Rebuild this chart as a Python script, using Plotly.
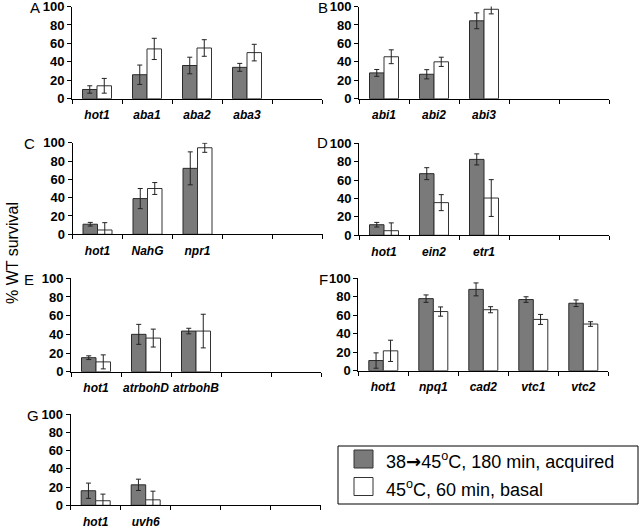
import plotly.graph_objects as go

# ---------------- data ----------------
cats_A = ["hot1", "aba1", "aba2", "aba3"]
acq_A = [10, 26, 36, 34]
acq_err_A = [4, 10.5, 9, 4.3]
bas_A = [14, 54, 55, 50]
bas_err_A = [8, 11.5, 9, 9]

cats_B = ["abi1", "abi2", "abi3"]
acq_B = [28, 26.5, 84.5]
acq_err_B = [3.7, 5, 8.6]
bas_B = [45.5, 40, 97]
bas_err_B = [7.5, 5, 5]

cats_C = ["hot1", "NahG", "npr1"]
acq_C = [11, 39, 72]
acq_err_C = [2, 11, 18]
bas_C = [4.7, 50, 94.5]
bas_err_C = [8, 6.5, 5]

cats_D = ["hot1", "ein2", "etr1"]
acq_D = [11.5, 67, 82.5]
acq_err_D = [2.5, 6.5, 6]
bas_D = [5, 35.5, 40.5]
bas_err_D = [8.5, 8.7, 20]

cats_E = ["hot1", "atrbohD", "atrbohB"]
acq_E = [15, 40, 43.5]
acq_err_E = [2, 10.7, 3]
bas_E = [10.5, 36, 43.5]
bas_err_E = [7.5, 9.6, 18]

cats_F = ["hot1", "npq1", "cad2", "vtc1", "vtc2"]
acq_F = [11, 78, 88, 77, 73]
acq_err_F = [8.3, 4, 7, 3, 3.6]
bas_F = [21.5, 64, 66, 55.5, 50.5]
bas_err_F = [11.5, 5, 3.3, 5.4, 2.5]

cats_G = ["hot1", "uvh6"]
acq_G = [16, 22.5]
acq_err_G = [8.4, 6.2]
bas_G = [5, 6]
bas_err_G = [7.3, 9.5]

panel_letters = ["A", "B", "C", "D", "E", "F", "G"]
legend_labels = [
    "38<span style=\"font-family:DejaVu Sans\"><b>\u2192</b></span>45<sup>o</sup>C, 180 min, acquired",
    "45<sup>o</sup>C, 60 min, basal",
]
y_title = "% WT survival"
n_slots = 5

panels = [
    (cats_A, acq_A, acq_err_A, bas_A, bas_err_A),
    (cats_B, acq_B, acq_err_B, bas_B, bas_err_B),
    (cats_C, acq_C, acq_err_C, bas_C, bas_err_C),
    (cats_D, acq_D, acq_err_D, bas_D, bas_err_D),
    (cats_E, acq_E, acq_err_E, bas_E, bas_err_E),
    (cats_F, acq_F, acq_err_F, bas_F, bas_err_F),
    (cats_G, acq_G, acq_err_G, bas_G, bas_err_G),
]

# ---------------- layout geometry (pixels) ----------------
W, H = 640, 528
# (x_left, x_right, y_top(100), y_bottom(0))
boxes = [
    (72, 322, 6.5, 98.7),
    (359, 609, 6.5, 98.7),
    (72.5, 322.5, 142.7, 234.3),
    (359, 609, 143.3, 235.3),
    (71, 321, 278.3, 371.7),
    (358.3, 608.3, 278.3, 370.7),
    (70.7, 320.7, 414.3, 505.3),
]
letter_pos = [(35, 8), (323, 8), (29.5, 143.5), (322, 143), (29, 279), (323, 279), (33, 415)]

FONT = "Arial, Liberation Sans, sans-serif"
DARK = "#7a7a7a"
EDGE = "#2a2a2a"

fig = go.Figure()
layout = dict(
    width=W, height=H,
    margin=dict(l=0, r=0, t=0, b=0, autoexpand=False),
    paper_bgcolor="white", plot_bgcolor="white",
    barmode="group", bargap=0.42, bargroupgap=0,
    showlegend=False,
    font=dict(family=FONT, color="black"),
)

annotations = []
shapes = []

for i, (cats, acq, acq_e, bas, bas_e) in enumerate(panels):
    k = "" if i == 0 else str(i + 1)
    xa, ya = "x" + k, "y" + k
    slots = list(cats) + [" " * (j + 1) for j in range(n_slots - len(cats))]
    fig.add_trace(go.Bar(
        x=cats, y=acq, xaxis=xa, yaxis=ya, name="acquired",
        marker=dict(color=DARK, line=dict(color=EDGE, width=1)),
        error_y=dict(type="data", array=acq_e, color="#222", thickness=1, width=2.5),
    ))
    fig.add_trace(go.Bar(
        x=cats, y=bas, xaxis=xa, yaxis=ya, name="basal",
        marker=dict(color="white", line=dict(color="#333", width=1)),
        error_y=dict(type="data", array=bas_e, color="#222", thickness=1, width=2.5),
    ))
    x0, x1, yt, yb = boxes[i]
    layout["xaxis" + k] = dict(
        domain=[x0 / W, x1 / W], anchor=ya,
        type="category", categoryorder="array", categoryarray=slots,
        range=[-0.5, n_slots - 0.5],
        tickson="boundaries", ticks="outside", ticklen=4, tickcolor="black",
        showline=True, linecolor="black", linewidth=1,
        showgrid=False, zeroline=False, automargin=False,
        tickangle=0, ticklabeloverflow="allow",
        tickfont=dict(family=FONT, size=12, weight="bold", style="italic", color="black"),
        ticklabelstandoff=5,
        fixedrange=True,
    )
    layout["yaxis" + k] = dict(
        domain=[1 - yb / H, 1 - yt / H], anchor=xa,
        range=[0, 100], dtick=20, tick0=0,
        ticks="outside", ticklen=4, tickcolor="black",
        showline=True, linecolor="black", linewidth=1,
        showgrid=False, zeroline=False, automargin=False,
        ticklabeloverflow="allow",
        tickfont=dict(family=FONT, size=13, weight="bold", color="black"),
        fixedrange=True,
    )
    lx, ly = letter_pos[i]
    annotations.append(dict(
        x=lx / W, y=1 - ly / H, xref="paper", yref="paper",
        text=panel_letters[i], showarrow=False,
        xanchor="center", yanchor="middle",
        font=dict(family=FONT, size=15, color="black"),
    ))

# y-axis title
annotations.append(dict(
    x=12 / W, y=1 - 253 / H, xref="paper", yref="paper",
    text=y_title, textangle=-90, showarrow=False,
    xanchor="center", yanchor="middle",
    font=dict(family=FONT, size=16, color="black"),
))

# legend box
shapes.append(dict(type="rect", xref="paper", yref="paper",
                   x0=338 / W, x1=638 / W, y0=1 - 504 / H, y1=1 - 446 / H,
                   line=dict(color="black", width=1), fillcolor="white"))
sw = [(DARK, 459), ("white", 486.5)]
for (col, cy), lab in zip(sw, legend_labels):
    shapes.append(dict(type="rect", xref="paper", yref="paper",
                       x0=354 / W, x1=373 / W, y0=1 - (cy + 9) / H, y1=1 - (cy - 9) / H,
                       line=dict(color="#333", width=1), fillcolor=col))
    annotations.append(dict(
        x=384 / W, y=1 - (cy + 1.5) / H, xref="paper", yref="paper",
        text=lab, showarrow=False, xanchor="left", yanchor="middle",
        font=dict(family=FONT, size=18, color="black"),
    ))

layout["annotations"] = annotations
layout["shapes"] = shapes
fig.update_layout(**layout)
fig.write_html(
    "out.html",
    config={"displayModeBar": False},
    post_script="document.body.style.margin='0px';document.body.style.overflow='hidden';",
)
